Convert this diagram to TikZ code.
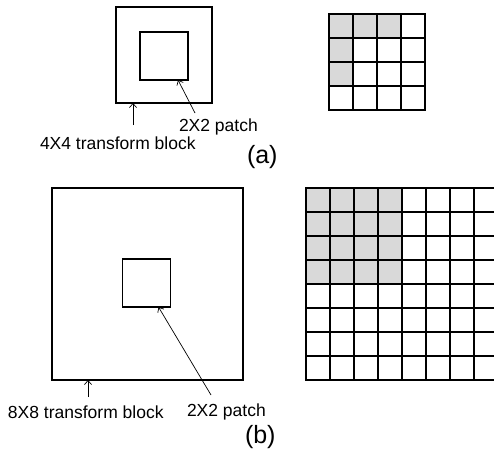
\documentclass[tikz,border=0pt]{standalone}
\usepackage{fontspec}
\setmainfont{Liberation Sans}
\usetikzlibrary{arrows.meta}
\definecolor{cellgray}{RGB}{217,217,217}
\begin{document}
\begin{tikzpicture}[
  x=1pt, y=-1pt,
  every node/.style={inner sep=0pt, outer sep=0pt},
  block/.style={draw, line width=1.2pt},
  cell/.style={draw, line width=1.2pt, minimum size=24pt},
  pointer/.style={-{Straight Barb[length=4pt,width=7pt]}, line width=0.7pt},
  tag/.style={font=\fontsize{17.5}{20}\selectfont, anchor=west},
  subcap/.style={font=\fontsize{25}{28}\selectfont, anchor=west}
]
  \useasboundingbox (0,0) rectangle (494,453);
  \clip (0,0) rectangle (494,453);

  % (a) 4x4 block with a 2x2 patch
  \node[block, minimum size=96pt] (blockA) at (164,55) {};
  \node[block, minimum size=48pt] (patchA) at (164,56) {};
  \node[tag] (blockTagA) at (40,143) {4X4 transform block};
  \node[tag] (patchTagA) at (179,127) {2X2 patch};
  \node[subcap] (capA) at (247,157) {(a)};
  \coordinate (blockTailA) at (133,125);
  \coordinate (patchTailA) at (195,113);
  \draw[pointer] (blockTailA) -- (blockTailA |- blockA.south);
  \draw[pointer] (patchTailA) -- ([xshift=14pt]patchA.south);

  % 4x4 grid
  \fill[cellgray] (329,14) rectangle +(72,24);
  \fill[cellgray] (329,38) rectangle +(24,48);
  \foreach \r in {0,...,3}
    \foreach \c in {0,...,3}
      \node[cell] (a\r\c) at (341+24*\c, 26+24*\r) {};

  % (b) 8x8 block with a 2x2 patch
  \node[block, minimum width=191pt, minimum height=192pt] (blockB) at (147.5,284) {};
  \node[block, minimum size=48pt] (patchB) at (146.5,283) {};
  \node[tag] (blockTagB) at (8,412) {8X8 transform block};
  \node[tag] (patchTagB) at (187,412) {2X2 patch};
  \node[subcap] (capB) at (245,437) {(b)};
  \coordinate (blockTailB) at (88,397);
  \coordinate (patchTailB) at (211,395);
  \draw[pointer] (blockTailB) -- (blockTailB |- blockB.south);
  \draw[pointer] (patchTailB) -- ([xshift=12pt]patchB.south);

  % 8x8 grid
  \fill[cellgray] (306,188) rectangle +(96,96);
  \foreach \r in {0,...,7}
    \foreach \c in {0,...,7}
      \node[cell] (b\r\c) at (318+24*\c, 200+24*\r) {};
\end{tikzpicture}
\end{document}
